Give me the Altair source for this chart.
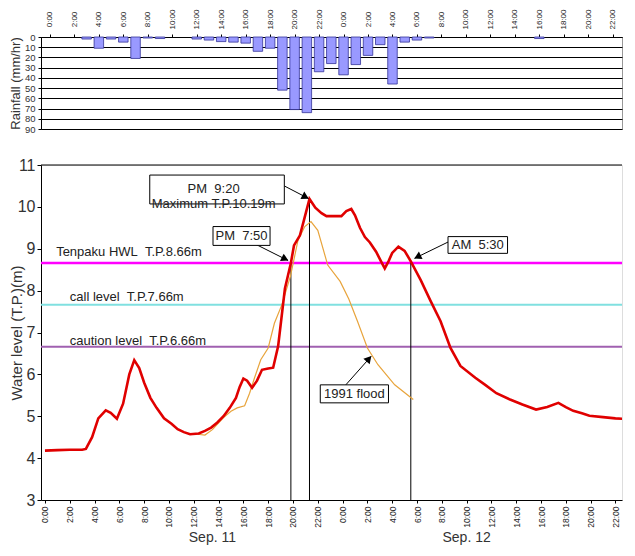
import math
import altair as alt
import pandas as pd

FONT = "Liberation Sans"
NB = "\u00a0"

# ---------------- data ----------------
# hours counted from Sep. 11 0:00
rain_hours = [3, 4, 5, 6, 7, 8, 9, 12, 13, 14, 15, 16, 17, 18, 19, 20, 21, 22,
              23, 24, 25, 26, 27, 28, 29, 30, 31, 40]
rain_mm = [2, 11, 2, 5, 21, 1, 1.5, 2, 3, 4.5, 5, 6, 14, 11, 52, 71, 74, 34,
           26, 37, 27, 18, 7.5, 46, 5, 3, 1, 1.5]

tick_hours = list(range(0, 47, 2))

wl_hours = [0, 1, 2, 3, 3.3, 3.8, 4.3, 4.9, 5.3, 5.8, 6.3, 6.8, 7.2, 7.6, 8.0,
            8.5, 9.0, 9.6, 10.2, 10.7, 11.2, 11.7, 12.4, 12.9, 13.4, 13.9,
            14.4, 14.9, 15.4, 15.7, 16.0, 16.3, 16.7, 17.1, 17.5, 18.0, 18.4,
            18.8, 19.35, 19.83, 20.08, 20.56, 20.9, 21.33, 21.8, 22.3, 22.7,
            23.3, 23.9, 24.3, 24.7, 25.0, 25.4, 25.8, 26.2, 26.7, 27.1, 27.4,
            27.7, 28.0, 28.5, 29.0, 29.5, 30.3, 31.1, 31.9, 32.7, 33.5, 34.7,
            35.5, 36.4, 37.5, 38.5, 39.6, 40.5, 41.4, 42.0, 42.6, 43.3, 43.9,
            45.0, 46.0, 47.3]
wl_level = [4.18, 4.19, 4.2, 4.2, 4.22, 4.5, 4.95, 5.14, 5.08, 4.94, 5.3, 6.0,
            6.34, 6.15, 5.8, 5.44, 5.2, 4.95, 4.82, 4.69, 4.62, 4.57, 4.59,
            4.65, 4.73, 4.85, 5.0, 5.2, 5.44, 5.7, 5.9, 5.85, 5.68, 5.85, 6.11,
            6.14, 6.16, 6.67, 8.05, 8.66, 9.08, 9.32, 9.7, 10.19, 9.98, 9.85,
            9.78, 9.78, 9.78, 9.9, 9.95, 9.8, 9.5, 9.28, 9.15, 8.93, 8.7, 8.53,
            8.7, 8.9, 9.05, 8.95, 8.7, 8.25, 7.75, 7.27, 6.63, 6.2, 5.92, 5.75,
            5.55, 5.4, 5.28, 5.16, 5.22, 5.32, 5.22, 5.13, 5.07, 5.01, 4.98,
            4.95, 4.93]

flood91_hours = [12.3, 12.9, 13.5, 14.4, 15.0, 15.5, 16.1, 16.5, 16.9, 17.4,
                 18.0, 18.5, 19.1, 19.8, 20.4, 20.95, 21.45, 22.0, 22.8, 23.8,
                 24.5, 25.2, 26.0, 26.85, 28.2, 29.7]
flood91_level = [4.57, 4.55, 4.68, 4.97, 5.12, 5.2, 5.25, 5.55, 5.92, 6.35,
                 6.63, 7.22, 7.66, 8.35, 9.2, 9.53, 9.65, 9.44, 8.61, 8.22,
                 7.8, 7.27, 6.63, 6.23, 5.75, 5.40]

level_names = ["Tenpaku HWL" + NB * 2 + "T.P.8.66m",
               "call level" + NB * 2 + "T.P.7.66m",
               "caution level" + NB * 2 + "T.P.6.66m"]
level_values = [8.66, 7.66, 6.66]
level_colors = ["#ff00ff", "#80e0e0", "#a060b0"]
level_widths = [2.5, 2, 2]
level_label_hour = [0.9, 2.0, 2.0]
level_label_level = [8.93, 7.84, 6.8]

event_hours = [19.83, 21.33, 29.5]
event_levels = [8.66, 10.19, 8.66]

box_h1 = [8.45, 13.55, 32.5, 22.2]
box_h2 = [19.3, 18.15, 37.3, 27.7]
box_l1 = [10.07, 9.08, 8.89, 5.32]
box_l2 = [10.76, 9.53, 9.29, 5.75]
box_text = ["PM" + NB * 2 + "9:20\nMaximum T.P.10.19m", "PM" + NB * 2 + "7:50",
            "AM" + NB * 2 + "5:30", "1991" + NB + "flood"]
box_text_h = [13.6, 15.85, 34.9, 24.95]
box_text_l = [10.42, 9.3, 9.09, 5.53]

arrow_h1 = [19.3, 16.7, 32.5, 24.17]
arrow_l1 = [10.5, 9.15, 9.16, 5.72]
arrow_h2 = [21.25, 19.6, 29.8, 26.3]
arrow_l2 = [10.2, 8.72, 8.77, 6.43]

day_names = ["Sep. 11", "Sep. 12"]
day_center_hours = [13.5, 34.0]

# ---------------- geometry ----------------
XDOM_T = [-0.32, 46.35]
XDOM_B = [-0.32, 46.53]
W_T, H_T = 581, 92
W_B, H_B = 581, 335
PXH = W_B / (XDOM_B[1] - XDOM_B[0])
PXL = H_B / 8.0

hour_expr = "(datum.value % 24) + ':00'"

# ---------------- top: rainfall ----------------
rain_df = pd.DataFrame({"hour": rain_hours, "mm": rain_mm})

top = alt.Chart(rain_df).mark_bar(
    size=9.5, color="#9999ff", stroke="#333399", strokeWidth=0.8
).encode(
    x=alt.X("hour:Q", scale=alt.Scale(domain=XDOM_T, nice=False, zero=False),
            axis=alt.Axis(orient="top", values=tick_hours, labelExpr=hour_expr,
                          labelAngle=270, labelAlign="center", labelBaseline="middle",
                          labelPadding=15, labelFontSize=8, labelFont=FONT,
                          labelColor="#222", tickSize=3, tickColor="black",
                          domainColor="black", grid=False, title=None)),
    y=alt.Y("mm:Q", scale=alt.Scale(domain=[0, 90], reverse=True, nice=False),
            axis=alt.Axis(values=list(range(0, 91, 10)), grid=True,
                          gridColor="black", gridWidth=1, gridOpacity=1,
                          labelFontSize=9.5, labelFont=FONT, labelColor="#333",
                          tickSize=3, tickColor="black", domainColor="black",
                          labelPadding=3, title="Rainfall (mm/hr)",
                          titleFont=FONT, titleFontSize=13, titleFontWeight="normal",
                          titleColor="#333", titleX=-19)),
).properties(width=W_T, height=H_T, view=alt.ViewBackground(stroke="#999"))

# ---------------- bottom: water level ----------------
xb_scale = alt.Scale(domain=XDOM_B, nice=False, zero=False)
yb_scale = alt.Scale(domain=[3, 11], nice=False, zero=False)
xb_axis = alt.Axis(values=tick_hours, labelExpr=hour_expr, labelAngle=270,
                   labelFontSize=8.5, labelFont=FONT, labelColor="#222",
                   tickSize=3, tickColor="black", domainColor="black",
                   labelPadding=3, grid=False, title=None)
yb_axis = alt.Axis(values=list(range(3, 12)), labelFontSize=16, labelFont=FONT,
                   labelColor="#333", tickSize=4, tickColor="black",
                   domainColor="black", labelPadding=2, grid=False,
                   title="Water level (T.P.)(m)", titleFont=FONT, titleFontSize=15,
                   titleFontWeight="normal", titleColor="#333", titleX=-17)


def XB(f):
    return alt.X(f, type="quantitative", scale=xb_scale, axis=xb_axis)


def YB(f):
    return alt.Y(f, type="quantitative", scale=yb_scale, axis=yb_axis)


levels_df = pd.DataFrame({"name": level_names, "v": level_values, "c": level_colors,
                          "w": level_widths, "lh": level_label_hour,
                          "ll": level_label_level})
events_df = pd.DataFrame({"h": event_hours, "l": event_levels, "base": [3] * 3})
wl_df = pd.DataFrame({"h": wl_hours, "l": wl_level})
f91_df = pd.DataFrame({"h": flood91_hours, "l": flood91_level})
box_df = pd.DataFrame({"h1": box_h1, "h2": box_h2, "l1": box_l1, "l2": box_l2,
                       "t": box_text, "th": box_text_h, "tl": box_text_l})

heads = []
for a, b, c, d in zip(arrow_h1, arrow_l1, arrow_h2, arrow_l2):
    dx = (c - a) * PXH
    dy = -(d - b) * PXL
    n = math.hypot(dx, dy)
    ux, uy = dx / n, dy / n
    ang = math.degrees(math.atan2(ux, -uy)) % 360
    heads.append({"h1": a, "l1": b, "h2": c, "l2": d,
                  "hh": c - 4.5 * ux / PXH, "hl": d + 4.5 * uy / PXL, "ang": ang})
arrow_df = pd.DataFrame(heads)
days_df = pd.DataFrame({"h": day_center_hours, "t": day_names})
top_df = pd.DataFrame({"v": [11]})

level_rules = alt.Chart(levels_df).mark_rule().encode(
    y=YB("v"),
    color=alt.Color("c:N", scale=None),
    strokeWidth=alt.StrokeWidth("w:Q", scale=None),
)
level_text = alt.Chart(levels_df).mark_text(
    align="left", baseline="middle", font=FONT, fontSize=13, color="#222"
).encode(x=XB("lh"), y=YB("ll"), text="name:N")

event_rules = alt.Chart(events_df).mark_rule(color="black", strokeWidth=1).encode(
    x=XB("h"), y=YB("base"), y2="l")

f91_line = alt.Chart(f91_df).mark_line(color="#e8a43c", strokeWidth=1.2).encode(
    x=XB("h"), y=YB("l"))
wl_line = alt.Chart(wl_df).mark_line(color="#e00000", strokeWidth=2.6, clip=True).encode(
    x=XB("h"), y=YB("l"))

arrow_lines = alt.Chart(arrow_df).mark_rule(color="black", strokeWidth=1).encode(
    x=XB("h1"), y=YB("l1"), x2="h2", y2="l2")
arrow_heads = alt.Chart(arrow_df).mark_point(
    shape="triangle", filled=True, color="black", size=70, opacity=1
).encode(x=XB("hh"), y=YB("hl"), angle=alt.Angle("ang:Q", scale=None))

boxes = alt.Chart(box_df).mark_rect(fill="white", stroke="black", strokeWidth=1).encode(
    x=XB("h1"), x2="h2", y=YB("l1"), y2="l2")
box_labels = alt.Chart(box_df).mark_text(
    font=FONT, fontSize=13, color="#222", lineBreak="\n", lineHeight=15,
    align="center", baseline="middle"
).encode(x=XB("th"), y=YB("tl"), text="t:N")

top_border = alt.Chart(top_df).mark_rule(color="black", strokeWidth=1).encode(y=YB("v"))

day_labels = alt.Chart(days_df).mark_text(
    font=FONT, fontSize=14, color="#333", align="center", baseline="middle"
).encode(x=XB("h"), y=alt.value(H_B + 38), text="t:N")

bottom = alt.layer(
    level_rules, event_rules, f91_line, wl_line, level_text,
    arrow_lines, arrow_heads, boxes, box_labels, top_border, day_labels
).properties(width=W_B, height=H_B)

chart = alt.vconcat(top, bottom, spacing=22).properties(
    padding={"left": 0, "top": 0, "right": 0, "bottom": 0}
).configure_view(stroke=None).configure(background="white")

chart.save("out.html", embed_options={"renderer": "svg", "actions": False})
